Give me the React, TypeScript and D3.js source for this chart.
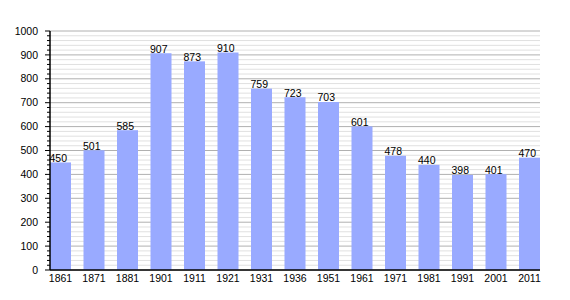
import React from "react";
import * as d3 from "d3";

const years = ["1861","1871","1881","1901","1911","1921","1931","1936","1951","1961","1971","1981","1991","2001","2011"];
const population = [450,501,585,907,873,910,759,723,703,601,478,440,398,401,470];
const yTicks = [0,100,200,300,400,500,600,700,800,900,1000];

export default function App() {
  const W = 570, H = 300;
  const left = 50, right = 540, top = 31, bottom = 270;
  const x = d3.scaleBand<string>().domain(years).range([left, right]).paddingInner(0.373).paddingOuter(0);
  const y = d3.scaleLinear().domain([0, 1000]).range([bottom, top]);
  const minor = d3.range(0, 1001, 20).filter(v => v % 100 !== 0);
  const font = "'Liberation Sans', Arial, sans-serif";
  const fs = 10.5;
  return (
    <svg width={W} height={H} style={{ position: "absolute", left: 0, top: 0, background: "#fff" }}>
      {minor.map(v => (
        <line key={"m" + v} x1={left} x2={right} y1={y(v)} y2={y(v)} stroke="#e0e0e0" strokeWidth={1} />
      ))}
      {yTicks.map(v => (
        <line key={"g" + v} x1={left} x2={right} y1={y(v)} y2={y(v)} stroke="#b0b0b0" strokeWidth={1} />
      ))}
      {years.map((yr, i) => (
        <rect key={yr} x={x(yr)} y={y(population[i])} width={x.bandwidth()} height={bottom - y(population[i])} fill="#99aaff" />
      ))}
      {years.map((yr, i) => (
        <text key={"l" + yr} x={x(yr)! - 0.5} y={y(population[i]) - 0.5} fontSize={fs} fontFamily={font} fill="#000">{population[i]}</text>
      ))}
      {minor.map(v => (
        <line key={"mt" + v} x1={left - 3} x2={left} y1={y(v)} y2={y(v)} stroke="#000" strokeWidth={1} />
      ))}
      {yTicks.map(v => (
        <line key={"t" + v} x1={left - 5} x2={left} y1={y(v)} y2={y(v)} stroke="#000" strokeWidth={1} />
      ))}
      {yTicks.map(v => (
        <text key={"yl" + v} x={38} y={y(v)} dy="0.35em" textAnchor="end" fontSize={fs} fontFamily={font} fill="#000">{v}</text>
      ))}
      <line x1={left} x2={left} y1={top} y2={bottom} stroke="#000" strokeWidth={1.5} />
      <line x1={left} x2={right} y1={bottom} y2={bottom} stroke="#000" strokeWidth={1.5} />
      {years.map(yr => (
        <text key={"x" + yr} x={x(yr)! + x.bandwidth() / 2} y={bottom + 12} textAnchor="middle" fontSize={fs} fontFamily={font} fill="#000">{yr}</text>
      ))}
    </svg>
  );
}
